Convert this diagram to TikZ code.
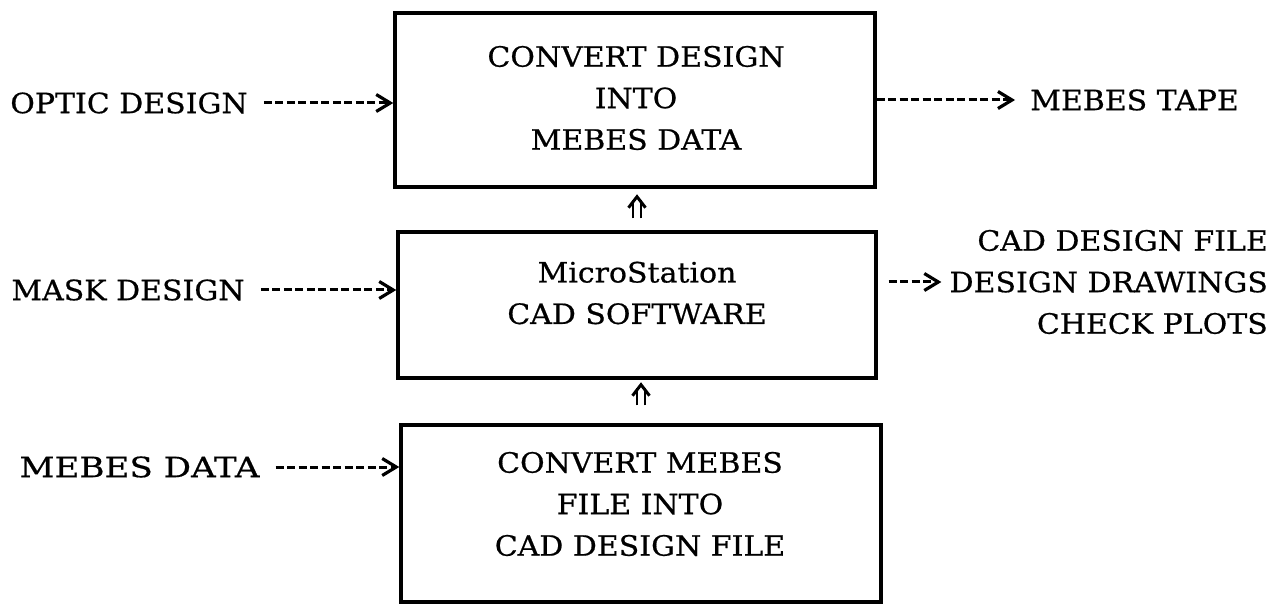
\documentclass[tikz,border=0pt]{standalone}
\usepackage{fontspec}
\setmainfont[FakeStretch=1.07, FakeBold=0.6]{DejaVu Serif}
\usetikzlibrary{arrows.meta}
\tikzset{
  box/.style={draw, line width=3.4pt, inner sep=0pt},
  txt/.style={inner sep=0pt, align=center, font=\fontsize{28}{41.5}\selectfont},
  dsh/.style={line width=3pt, dash pattern=on 8pt off 3.5pt,
     -{Straight Barb[length=14pt, width=17pt, line width=3.2pt]}},
  shaft/.style={line width=2.8pt},
  chev/.style={line width=3pt, miter limit=10},
}
\begin{document}
\begin{tikzpicture}[x=1pt, y=-1pt]
\useasboundingbox (0,0) rectangle (1278,604);
% boxes
\node[box, minimum width=480pt, minimum height=174pt] (b1) at (635,100) {};
\node[box, minimum width=478pt, minimum height=146pt] (b2) at (637,305) {};
\node[box, minimum width=480pt, minimum height=177pt] (b3) at (641,513.5) {};
% box texts
\node[txt] (t1) at (636,98) {CONVERT DESIGN\\INTO\\MEBES DATA};
\node[txt] (t2) at (637,293) {MicroStation\\CAD SOFTWARE};
\node[txt] (t3) at (640,504) {CONVERT MEBES\\FILE INTO\\CAD DESIGN FILE};
% left labels
\node[txt] (optic) at (129,103) {OPTIC DESIGN};
\node[txt] (mask) at (128,290) {MASK DESIGN};
\node[txt, xscale=1.14] (mdata) at (139.5,467) {MEBES DATA};
% right labels
\node[txt] (tape) at (1134.5,100) {MEBES TAPE};
\node[txt, align=right, anchor=east] (outs) at (1268,282) {CAD DESIGN FILE\\DESIGN DRAWINGS\\CHECK PLOTS};
% dashed connectors
\draw[dsh, shorten <=16pt] (optic.east) -- (optic.east -| b1.west);
\draw[dsh, shorten <=16pt] (mask.east) -- (mask.east -| b2.west);
\draw[dsh, shorten <=16pt] (mdata.east) -- (mdata.east -| b3.west);
\draw[dsh, shorten >=15pt] (b1.east |- tape.west) -- (tape.west);
\draw[dsh, shorten <=11pt, shorten >=8pt] (b2.east |- outs.west) -- (outs.west);
% double arrow b2 -> b1
\coordinate (u1) at (b2.north |- b1.south);
\draw[shaft] ([xshift=-4pt, yshift=12pt]b2.north) -- ([xshift=-4pt, yshift=-11pt]u1);
\draw[shaft] ([xshift=4pt, yshift=12pt]b2.north) -- ([xshift=4pt, yshift=-11pt]u1);
\draw[chev] ([xshift=-8.5pt, yshift=-19pt]u1) -- ([yshift=-8pt]u1) -- ([xshift=8.5pt, yshift=-19pt]u1);
% double arrow b3 -> b2
\coordinate (u2) at (b3.north |- b2.south);
\draw[shaft] ([xshift=-4pt, yshift=18pt]b3.north) -- ([xshift=-4pt, yshift=-8pt]u2);
\draw[shaft] ([xshift=4pt, yshift=18pt]b3.north) -- ([xshift=4pt, yshift=-8pt]u2);
\draw[chev] ([xshift=-8.5pt, yshift=-16pt]u2) -- ([yshift=-5pt]u2) -- ([xshift=8.5pt, yshift=-16pt]u2);
\end{tikzpicture}
\end{document}
